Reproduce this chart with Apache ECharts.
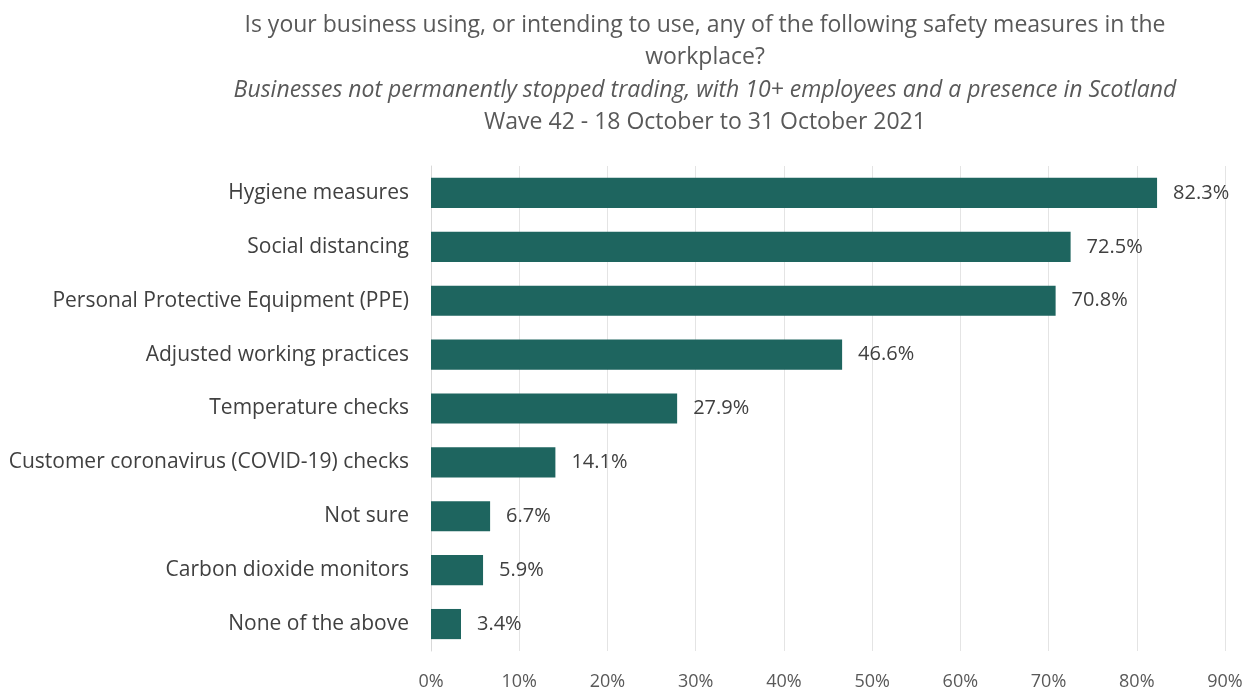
<!doctype html>
<html>
<head>
    <meta charset="utf-8">
    <title>Safety measures</title>
    <style type="text/css">
        body, html { width: 100%; height: 100%; margin: 0; padding: 0; background: #fff; }
    </style>
    <script src="https://cdn.jsdelivr.net/npm/echarts@6/dist/echarts.min.js"></script>
</head>
<body>
<div id="container" style="width:1255px;height:693px"></div>
<script type="text/javascript">
    const categories = [
        'Hygiene measures',
        'Social distancing',
        'Personal Protective Equipment (PPE)',
        'Adjusted working practices',
        'Temperature checks',
        'Customer coronavirus (COVID-19) checks',
        'Not sure',
        'Carbon dioxide monitors',
        'None of the above'
    ];
    const values = [82.3, 72.5, 70.8, 46.6, 27.9, 14.1, 6.7, 5.9, 3.4];
    const titleLines = [
        'Is your business using, or intending to use, any of the following safety measures in the',
        'workplace?',
        'Businesses not permanently stopped trading, with 10+ employees and a presence in Scotland',
        'Wave 42 - 18 October to 31 October 2021'
    ];

    const font = '"Open Sans", Lato, sans-serif';
    const myChart = echarts.init(document.getElementById('container'), null, { renderer: 'canvas' });

    const option = {
        backgroundColor: '#ffffff',
        animation: false,
        graphic: titleLines.map(function (t, i) {
            return {
                type: 'text',
                x: 705,
                y: 25 + i * 32.5,
                style: {
                    text: t,
                    font: (i === 2 ? 'italic ' : '') + '23px ' + font,
                    fill: '#595959',
                    textAlign: 'center',
                    textVerticalAlign: 'middle'
                }
            };
        }),
        grid: { left: 431, right: 30, top: 166, bottom: 42 },
        xAxis: {
            type: 'value',
            min: 0,
            max: 90,
            interval: 10,
            axisLine: { show: false },
            axisTick: { show: false },
            splitLine: { lineStyle: { color: '#e4e4e4', width: 1 } },
            axisLabel: {
                formatter: '{value}%',
                color: '#595959',
                fontSize: 18,
                fontFamily: font,
                margin: 22
            }
        },
        yAxis: {
            type: 'category',
            inverse: true,
            data: categories,
            axisLine: { show: true, lineStyle: { color: '#d9d9d9', width: 1 } },
            axisTick: { show: false },
            axisLabel: {
                color: '#404040',
                fontSize: 21,
                fontFamily: font,
                margin: 22
            }
        },
        series: [{
            type: 'bar',
            data: values,
            barCategoryGap: '44%',
            itemStyle: { color: '#1e655f' },
            label: {
                show: true,
                position: 'right',
                distance: 16,
                formatter: function (p) { return p.value.toFixed(1) + '%'; },
                color: '#404040',
                fontSize: 20,
                fontFamily: font
            }
        }]
    };
    myChart.setOption(option);
</script>
</body>
</html>
